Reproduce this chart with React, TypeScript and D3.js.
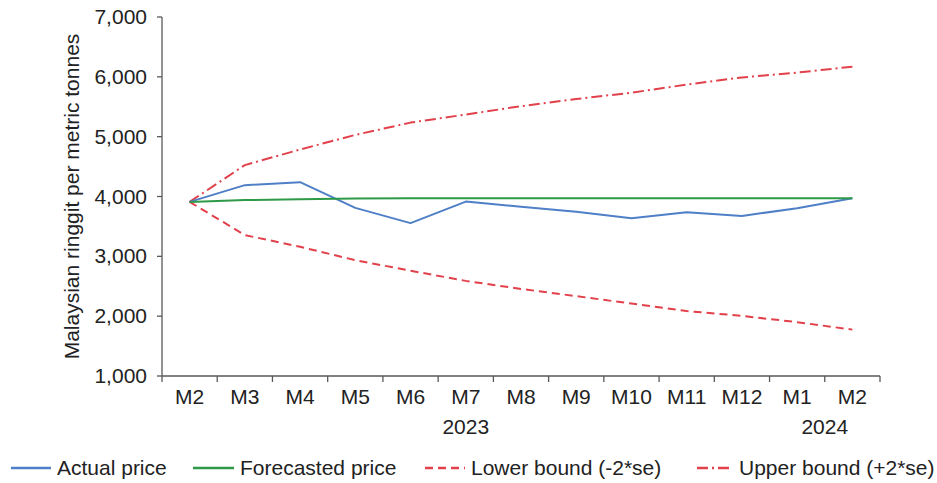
import { useEffect, useRef } from 'react';
import * as d3 from 'd3';

const months = ['M2', 'M3', 'M4', 'M5', 'M6', 'M7', 'M8', 'M9', 'M10', 'M11', 'M12', 'M1', 'M2'];
// year groups: first and last month index of each group
const years = [
  { label: '2023', from: 0, to: 10 },
  { label: '2024', from: 11, to: 12 },
];

const actualPrice = [3910, 4190, 4240, 3810, 3555, 3915, 3830, 3745, 3635, 3735, 3675, 3805, 3970];
const forecastPrice = [3910, 3940, 3955, 3965, 3970, 3970, 3970, 3970, 3970, 3970, 3970, 3970, 3970];
const lowerBound = [3910, 3355, 3160, 2935, 2760, 2590, 2455, 2335, 2210, 2085, 2005, 1900, 1775];
const upperBound = [3910, 4525, 4785, 5030, 5235, 5370, 5510, 5630, 5735, 5870, 5990, 6070, 6170];

const yTicks = [1000, 2000, 3000, 4000, 5000, 6000, 7000];

const W = 937;
const H = 483;
const FONT = '"Liberation Sans", Arial, sans-serif';
const FS = 21;

const BLUE = '#4f7fc6';
const GREEN = '#2e9a48';
const RED = '#e2404a';
const AXIS = '#595959';

const series = [
  { name: 'Actual price', values: actualPrice, color: BLUE, dash: null },
  { name: 'Forecasted price', values: forecastPrice, color: GREEN, dash: null },
  { name: 'Lower bound (-2*se)', values: lowerBound, color: RED, dash: '8,5' },
  { name: 'Upper bound (+2*se)', values: upperBound, color: RED, dash: '11,4,2,4' },
];

const App = () => {
  const svgRef = useRef<SVGSVGElement>(null);

  useEffect(() => {
    if (!svgRef.current) return;
    const svg = d3.select(svgRef.current);
    svg.selectAll('*').remove();

    const left = 162;
    const right = 880;
    const top = 17;
    const bottom = 376;

    // category band scale, points sit in the middle of each band
    const x = d3
      .scaleBand<number>()
      .domain(months.map((_, i) => i))
      .range([left, right]);
    const cx = (i: number) => (x(i) || 0) + x.bandwidth() / 2;

    const y = d3.scaleLinear().domain([1000, 7000]).range([bottom, top]);

    // y axis
    const yAxis = svg.append('g');
    yAxis
      .append('line')
      .attr('x1', left)
      .attr('x2', left)
      .attr('y1', top)
      .attr('y2', bottom)
      .attr('stroke', AXIS)
      .attr('stroke-width', 1.3);
    yTicks.forEach((t) => {
      yAxis
        .append('line')
        .attr('x1', left - 5)
        .attr('x2', left)
        .attr('y1', y(t))
        .attr('y2', y(t))
        .attr('stroke', AXIS)
        .attr('stroke-width', 1.3);
      yAxis
        .append('text')
        .attr('x', left - 15)
        .attr('y', y(t) + 7)
        .attr('text-anchor', 'end')
        .attr('font-family', FONT)
        .attr('font-size', FS)
        .attr('fill', '#222')
        .text(d3.format(',')(t));
    });

    svg
      .append('text')
      .attr('transform', `translate(79,${(top + bottom) / 2}) rotate(-90)`)
      .attr('text-anchor', 'middle')
      .attr('font-family', FONT)
      .attr('font-size', FS)
      .attr('fill', '#222')
      .text('Malaysian ringgit per metric tonnes');

    // x axis
    const xAxis = svg.append('g');
    xAxis
      .append('line')
      .attr('x1', left)
      .attr('x2', right)
      .attr('y1', bottom)
      .attr('y2', bottom)
      .attr('stroke', AXIS)
      .attr('stroke-width', 1.3);
    d3.range(months.length + 1).forEach((i) => {
      const tx = left + i * x.step();
      xAxis
        .append('line')
        .attr('x1', tx)
        .attr('x2', tx)
        .attr('y1', bottom)
        .attr('y2', bottom + 6)
        .attr('stroke', AXIS)
        .attr('stroke-width', 1.3);
    });
    months.forEach((m, i) => {
      xAxis
        .append('text')
        .attr('x', cx(i))
        .attr('y', bottom + 28)
        .attr('text-anchor', 'middle')
        .attr('font-family', FONT)
        .attr('font-size', FS)
        .attr('fill', '#222')
        .text(m);
    });
    years.forEach((yr) => {
      xAxis
        .append('text')
        .attr('x', (cx(yr.from) + cx(yr.to)) / 2)
        .attr('y', bottom + 58)
        .attr('text-anchor', 'middle')
        .attr('font-family', FONT)
        .attr('font-size', FS)
        .attr('fill', '#222')
        .text(yr.label);
    });

    // lines
    const line = d3
      .line<number>()
      .x((_, i) => cx(i))
      .y((d) => y(d));

    const drawOrder = [2, 3, 0, 1];
    drawOrder.forEach((k) => {
      const s = series[k];
      svg
        .append('path')
        .datum(s.values)
        .attr('d', line)
        .attr('fill', 'none')
        .attr('stroke', s.color)
        .attr('stroke-width', 2)
        .attr('stroke-dasharray', s.dash)
        .attr('stroke-linejoin', 'round');
    });

    // legend
    const legendItems = [
      { x0: 11, x1: 51, tx: 57 },
      { x0: 193, x1: 234, tx: 240 },
      { x0: 425, x1: 465, tx: 471 },
      { x0: 697, x1: 733, tx: 739 },
    ];
    const ly = 468;
    series.forEach((s, k) => {
      const it = legendItems[k];
      svg
        .append('line')
        .attr('x1', it.x0)
        .attr('x2', it.x1)
        .attr('y1', ly)
        .attr('y2', ly)
        .attr('stroke', s.color)
        .attr('stroke-width', 2.5)
        .attr('stroke-dasharray', s.dash);
      svg
        .append('text')
        .attr('x', it.tx)
        .attr('y', ly + 7)
        .attr('font-family', FONT)
        .attr('font-size', FS)
        .attr('fill', '#222')
        .text(s.name);
    });
  }, []);

  return (
    <div style={{ position: 'absolute', left: 0, top: 0, background: '#fff' }}>
      <svg ref={svgRef} width={W} height={H} style={{ display: 'block' }} />
    </div>
  );
};

export default App;
